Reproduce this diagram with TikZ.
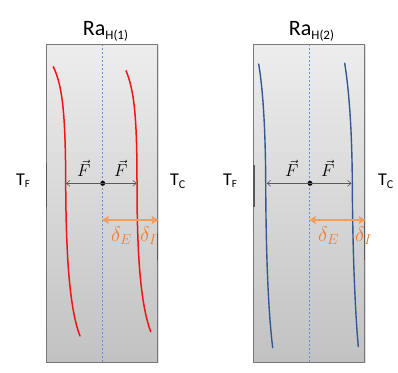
\documentclass[tikz,border=0pt]{standalone}
\usepackage{fontspec}
\setmainfont{Carlito}
\definecolor{darkgrey}{RGB}{89,89,89}
\definecolor{edgegrey}{RGB}{120,120,120}
\definecolor{wallred}{RGB}{240,20,20}
\definecolor{wallblue}{RGB}{52,88,148}
\definecolor{midblue}{RGB}{100,145,205}
\definecolor{deltaorange}{RGB}{237,125,49}
\definecolor{arroworange}{RGB}{243,158,90}
\usetikzlibrary{positioning, calc, arrows.meta, shadows}

\begin{document}
\begin{tikzpicture}[
        x=1pt, y=-1pt,
        panel/.style={rectangle, draw=edgegrey, line width=1pt, top color=white!93!black, bottom color=white!76!black, minimum width=111pt, minimum height=318pt, inner sep=0pt, drop shadow={opacity=0.25, shadow xshift=1.2pt, shadow yshift=-1.2pt}},
        midline/.style={midblue, line width=0.8pt, dash pattern=on 2.5pt off 1.5pt},
        wallmark/.style={darkgrey, line width=1.3pt},
        redwall/.style={wallred, line width=1.5pt, line cap=round},
        bluewall/.style={wallblue, line width=1.4pt, line cap=round},
        farrow/.style={darkgrey, line width=0.6pt, -{Straight Barb[length=3.5pt, width=6pt]}},
        darrow/.style={arroworange, line width=2.2pt, {Stealth[length=6.5pt, width=8pt, inset=1pt]}-{Stealth[length=6.5pt, width=8pt, inset=1pt]}},
        dot/.style={circle, fill=black, inner sep=0pt, minimum size=5pt},
        title/.style={anchor=base, font=\fontsize{22}{26}\selectfont},
        temp/.style={anchor=base west, inner sep=0pt, font=\fontsize{18}{22}\selectfont},
        flabel/.style={inner sep=0pt, font=\fontsize{17}{20}\selectfont},
        dlabel/.style={anchor=base west, text=deltaorange, inner sep=0pt, font=\fontsize{20}{24}\selectfont}
    ]
        \useasboundingbox (0,0) rectangle (398,372);

        % Panels
        \node[panel] (box1) at (102.2,203) {};
        \node[panel] (box2) at (309.35,203) {};

        % Walls
        \draw[wallmark] (46.7,163) -- (46.7,207);
        \draw[wallmark] (157.7,233) -- (157.7,260);
        \draw[wallmark] (254,165) -- (254,207);
        \draw[wallmark] (364.7,222) -- (364.7,260);

        % Mid planes
        \draw[midline] (box1.north) -- (box1.south);
        \draw[midline] (box2.north) -- (box2.south);

        % Titles
        \node[title] (ra1) at (105.5,35) {Ra\raisebox{-4pt}{\fontsize{13}{15}\selectfont H(1)}};
        \node[title] (ra2) at (311.5,35) {Ra\raisebox{-4pt}{\fontsize{13}{15}\selectfont H(2)}};

        % Temperatures
        \node[temp] (tf1) at (16,185) {T\raisebox{-2.5pt}{\fontsize{11}{13}\selectfont F}};
        \node[temp] (tc1) at (170,185) {T\raisebox{-3.5pt}{\fontsize{12}{14}\selectfont C}};
        \node[temp] (tf2) at (223,185) {T\raisebox{-2.5pt}{\fontsize{11}{13}\selectfont F}};
        \node[temp] (tc2) at (378,185) {T\raisebox{-3.5pt}{\fontsize{12}{14}\selectfont C}};

        % Boundary layers
        \draw[redwall] (53.3,66.7) .. controls (62,85) and (65.5,110) .. (65.7,183) .. controls (66,260) and (70,310) .. (80,336);
        \draw[redwall] (126,70.7) .. controls (134,90) and (137,115) .. (137,183) .. controls (137,260) and (141,305) .. (150.7,331.7);
        \draw[bluewall] (258.7,64) .. controls (263,90) and (265.5,130) .. (265.7,183) .. controls (266,250) and (268,310) .. (272.7,347.7);
        \draw[bluewall] (344.7,63.3) .. controls (349,90) and (352,130) .. (352.3,183) .. controls (352.6,250) and (355,310) .. (358.3,346.7);

        % Forces
        \node[dot] (c1) at (102.7,183.3) {};
        \node[dot] (c2) at (310,183.3) {};
        \coordinate (fl1) at (66,183.3);
        \coordinate (fr1) at (136.7,183.3);
        \coordinate (fl2) at (266.7,183.3);
        \coordinate (fr2) at (351.5,183.3);
        \draw[farrow] (c1.center) -- (fl1);
        \draw[farrow] (c1.center) -- (fr1);
        \draw[farrow] (c2.center) -- (fl2);
        \draw[farrow] (c2.center) -- (fr2);
        \node[flabel] at (83.7,168.5) {$\vec{F}$};
        \node[flabel] at (120.7,168.5) {$\vec{F}$};
        \node[flabel] at (291.7,168.5) {$\vec{F}$};
        \node[flabel] at (327.8,168.5) {$\vec{F}$};

        % Thicknesses
        \coordinate (d1) at (102.2,220);
        \coordinate (d2) at (309.35,220);
        \draw[darrow] (d1) -- (d1 -| box1.east);
        \draw[darrow] (d2) -- (d2 -| box2.east);
        \node[dlabel] at (111,241) {$\delta_E$};
        \node[dlabel] at (140,241) {$\delta_I$};
        \node[dlabel] at (318,241) {$\delta_E$};
        \node[dlabel] at (355,241) {$\delta_I$};
    \end{tikzpicture}
\end{document}
